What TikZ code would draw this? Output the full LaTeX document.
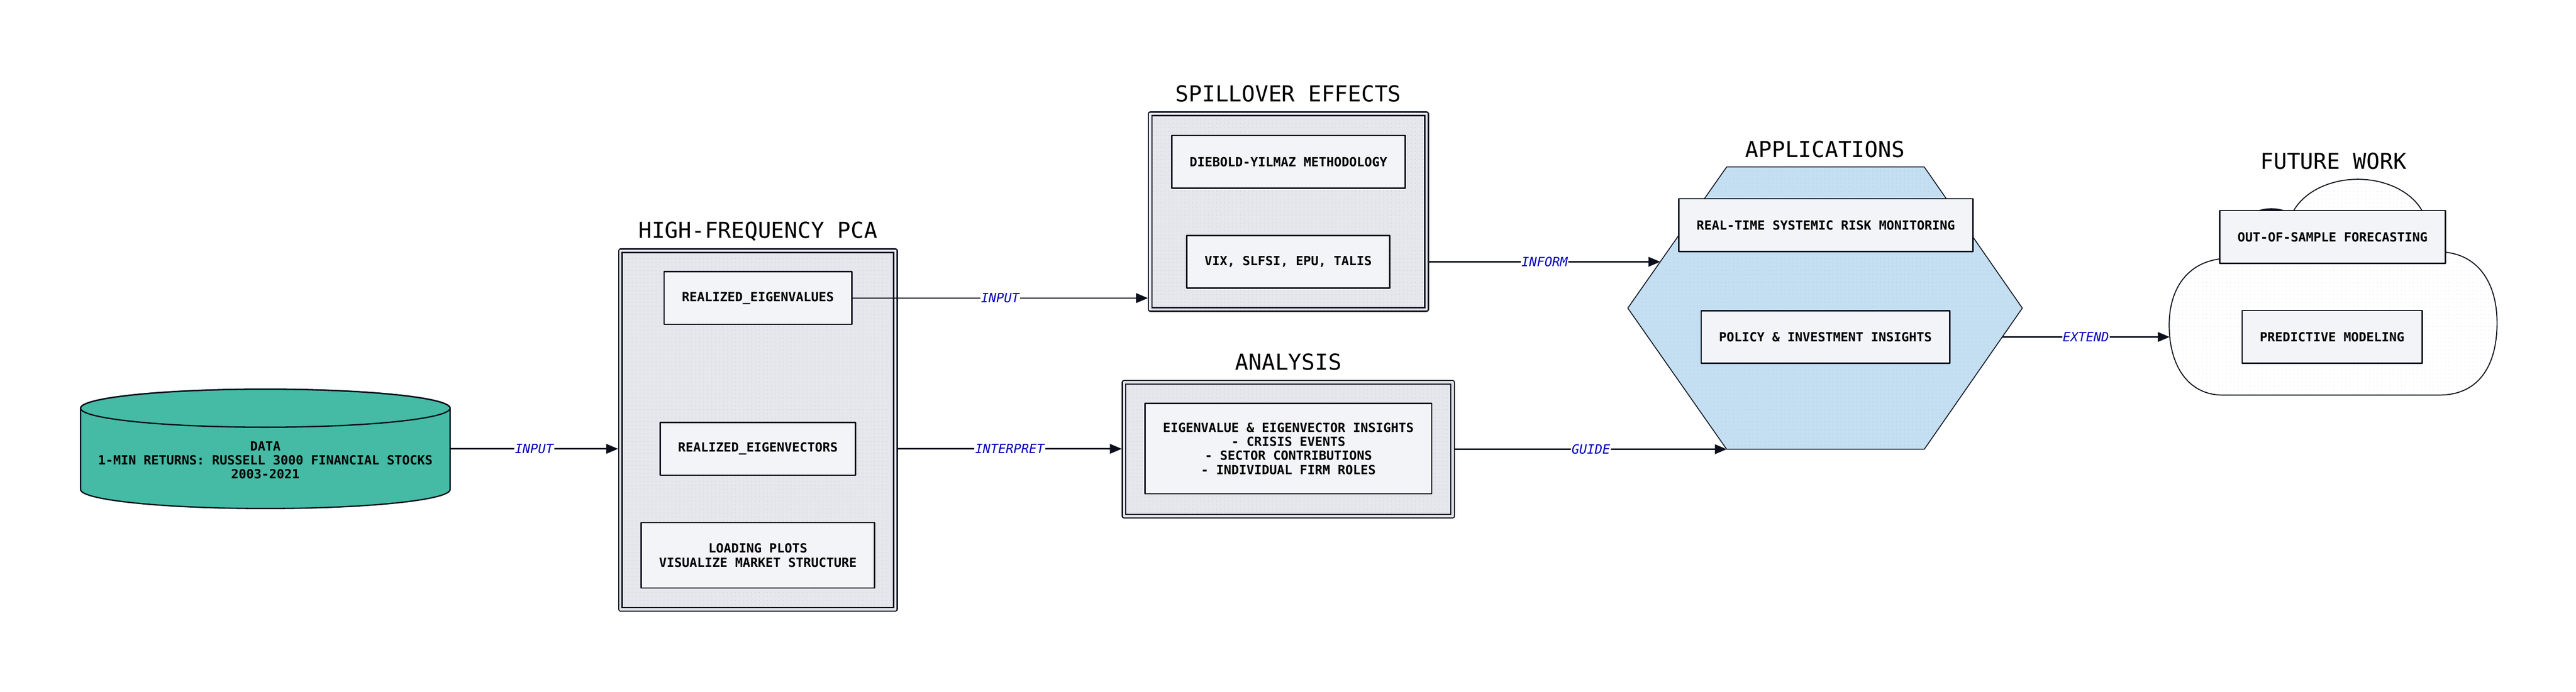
\documentclass[tikz,border=0pt]{standalone}
\usepackage{fontspec}
\setmonofont{DejaVu Sans Mono}
\usepackage{pgf,tikz}
\usetikzlibrary{arrows,positioning,patterns}

\definecolor{ink}{HTML}{0B0F1C}
\definecolor{contfill}{HTML}{E6E7ED}
\definecolor{boxfill}{HTML}{F3F4F8}
\definecolor{dotcol}{HTML}{CDCED6}
\definecolor{datafill}{HTML}{45BAA4}
\definecolor{appfill}{HTML}{C4DEF2}
\definecolor{appdot}{HTML}{B2CCE2}
\definecolor{clouddot}{HTML}{DCDDE3}
\definecolor{lblblue}{HTML}{0000BB}

\newcommand\boxfnt{\ttfamily\bfseries\fontsize{9.05}{10.1}\selectfont}
\newcommand\titlefnt{\ttfamily\fontsize{15.8}{18}\selectfont}
\newcommand\lblfnt{\ttfamily\itshape\fontsize{9.16}{10}\selectfont}

\pgfdeclarepatternformonly{finedots}{\pgfqpoint{-1pt}{-1pt}}{\pgfqpoint{1pt}{1pt}}{\pgfqpoint{2.85pt}{2.85pt}}{\pgfpathcircle{\pgfqpoint{0pt}{0pt}}{0.3pt}\pgfusepath{fill}}

\begin{document}
\begin{tikzpicture}[line cap=round,line join=round,>=triangle 45,x=1.0cm,y=1.0cm,
  container/.style={draw=ink,line width=0.03cm,double=contfill,double distance=0.06cm,preaction={fill=contfill},pattern=finedots,pattern color=dotcol,inner sep=0pt,outer sep=0.06cm},
  box/.style={draw=ink,line width=0.033cm,fill=boxfill,font=\boxfnt,align=center,inner xsep=0.45cm,inner ysep=0.15cm,minimum height=1.33cm},
  title/.style={font=\titlefnt,inner sep=0pt},
  lbl/.style={midway,fill=white,inner sep=0.5pt,text=lblblue,font=\lblfnt},
  conn/.style={->,draw=ink,line width=0.033cm}]
\path[fill=white] (0,0) rectangle (64.90,-17.44);
\useasboundingbox (0,0) rectangle (64.90,-17.44);

% data cylinder
\path[fill=datafill,draw=ink,line width=0.033cm] (2.03,-10.29) -- (2.03,-12.34) arc[start angle=180,end angle=360,x radius=4.655,y radius=0.48] -- (11.34,-10.29) arc[start angle=0,end angle=180,x radius=4.655,y radius=0.48] -- cycle;
\draw[ink,line width=0.033cm] (6.685,-10.29) ellipse [x radius=4.655,y radius=0.48];
\node[font=\boxfnt,align=center,minimum width=9.31cm,inner sep=0pt] (data) at (6.685,-11.60) {DATA\\1-MIN RETURNS: RUSSELL 3000 FINANCIAL STOCKS\\2003-2021};

% high-frequency pca
\node[container,minimum width=6.93cm,minimum height=9.04cm] (pca) at (19.095,-10.84) {};
\node[title,above=0.26cm of pca,anchor=base] (pcatitle) {HIGH-FREQUENCY PCA};
\node[box] (eval) at (19.095,-7.515) {REALIZED\_EIGENVALUES};
\node[box] (evec) at (19.095,-11.315) {REALIZED\_EIGENVECTORS};
\node[box,minimum height=1.65cm] (load) at (19.095,-14.0) {LOADING PLOTS\\VISUALIZE MARKET STRUCTURE};

% spillover effects
\node[container,minimum width=6.96cm,minimum height=4.93cm] (spill) at (32.46,-5.335) {};
\node[title,above=0.25cm of spill,anchor=base] (spilltitle) {SPILLOVER EFFECTS};
\node[box] (dy) at (32.46,-4.08) {DIEBOLD-YILMAZ METHODOLOGY};
\node[box] (vix) at (32.455,-6.60) {VIX, SLFSI, EPU, TALIS};

% analysis
\node[container,minimum width=8.28cm,minimum height=3.37cm] (ana) at (32.46,-11.325) {};
\node[title,above=0.26cm of ana,anchor=base] (anatitle) {ANALYSIS};
\node[box,minimum height=2.28cm] (insight) at (32.46,-11.31) {EIGENVALUE \& EIGENVECTOR INSIGHTS\\- CRISIS EVENTS\\- SECTOR CONTRIBUTIONS\\- INDIVIDUAL FIRM ROLES};

% applications
\path[preaction={fill=appfill},pattern=finedots,pattern color=appdot,draw=ink,line width=0.022cm] (43.50,-4.21) -- (48.48,-4.21) -- (50.95,-7.7675) -- (48.48,-11.325) -- (43.50,-11.325) -- (41.01,-7.7675) -- cycle;
\node[title,anchor=base] (apptitle) at (45.98,-3.96) {APPLICATIONS};
\node[box] (rtm) at (46.0,-5.676) {REAL-TIME SYSTEMIC RISK MONITORING};
\node[box] (pol) at (45.99,-8.495) {POLICY \& INVESTMENT INSIGHTS};
\coordinate (appin) at (41.827,-6.60);
\coordinate (appbl) at (43.50,-11.325);
\coordinate (appout) at (50.445,-8.495);

% future work
\path[preaction={fill=white},pattern=finedots,pattern color=clouddot,draw=ink,line width=0.025cm] (56.00,-9.96) -- (61.45,-9.96) .. controls (62.50,-9.96) and (62.91,-9.15) .. (62.91,-8.14) .. controls (62.91,-7.15) and (62.45,-6.45) .. (61.62,-6.36) -- (61.02,-5.31) arc[start angle=22.5,end angle=157.5,x radius=1.75,y radius=1.28] -- (55.91,-6.53) .. controls (55.05,-6.65) and (54.65,-7.35) .. (54.65,-8.19) .. controls (54.65,-9.25) and (55.15,-9.96) .. (56.00,-9.96) -- cycle;
\fill[ink] (56.88,-5.31) .. controls (57.08,-5.23) and (57.37,-5.23) .. (57.57,-5.31) -- cycle;
\node[title,anchor=base] (fwtitle) at (58.79,-4.26) {FUTURE WORK};
\node[box] (oos) at (58.765,-5.975) {OUT-OF-SAMPLE FORECASTING};
\node[box] (pred) at (58.755,-8.49) {PREDICTIVE MODELING};
\coordinate (fwin) at (54.66,-8.495);

% connectors
\draw[conn] (data.east |- evec) -- (evec -| pca.west) node[lbl] {INPUT};
\draw[conn] (eval.east) -- (eval -| spill.west) node[lbl] {INPUT};
\draw[conn] (evec -| pca.east) -- (evec -| ana.west) node[lbl] {INTERPRET};
\draw[conn] (vix -| spill.east) -- (appin) node[lbl] {INFORM};
\draw[conn] (ana.east) -- (appbl) node[lbl] {GUIDE};
\draw[conn] (appout) -- (fwin) node[lbl] {EXTEND};
\end{tikzpicture}
\end{document}
